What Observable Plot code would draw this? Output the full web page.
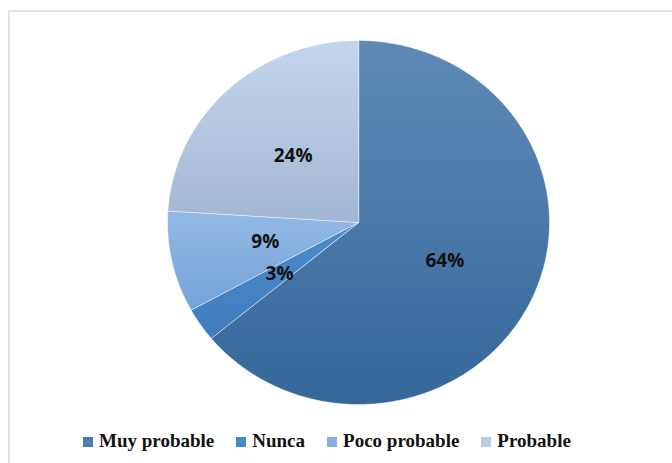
<!DOCTYPE html>
<html>
<head>
<meta charset="utf-8">
<script src="https://cdn.jsdelivr.net/npm/d3@7"></script>
<script src="https://cdn.jsdelivr.net/npm/@observablehq/plot@0.6"></script>
<style>
  html, body { margin: 0; padding: 0; background: #fff; width: 672px; height: 463px; overflow: hidden; }
  #wrap { position: relative; width: 672px; height: 463px; }
  #frame { position: absolute; left: 8px; top: 10px; width: 700px; height: 500px; border: 2px solid #dce3eb; box-sizing: border-box; }
  #chart { position: absolute; left: 0; top: 0; }
  #legend { position: absolute; left: 83px; top: 430px; display: flex; align-items: center;
    font-family: "Liberation Serif", "Times New Roman", serif; font-weight: bold; font-size: 19px; color: #111; white-space: nowrap; }
  .item { display: flex; align-items: center; margin-right: 22px; }
  .sw { width: 10px; height: 10px; margin-right: 6px; margin-top: 2px; }
</style>
</head>
<body>
<div id="wrap">
  <div id="frame"></div>
  <div id="chart"></div>
  <div id="legend"></div>
</div>
<script>
const categories = ["Muy probable", "Nunca", "Poco probable", "Probable"];
const values = [64, 3, 9, 24];
const labels = ["64%", "3%", "9%", "24%"];
const gradTop = ["#5f8ab6", "#4d8cca", "#94b9e4", "#c4d6ee"];
const gradBottom = ["#35679a", "#3f7dbf", "#74a3d8", "#a2b7d5"];
const swatch = ["#4a7cad", "#4788c8", "#87afe0", "#b8cce8"];

const total = d3.sum(values);
// slices start at the top and run clockwise
let cum = 0;
const slices = categories.map((c, i) => {
  const a0 = cum / total * 2 * Math.PI;
  cum += values[i];
  const a1 = cum / total * 2 * Math.PI;
  return {c, i, a0, a1, v: values[i]};
});

const pts = [];
slices.forEach(s => {
  pts.push({c: s.c, i: s.i, x: 0, y: 0});
  const n = Math.max(2, Math.ceil((s.a1 - s.a0) / (Math.PI / 360)));
  for (let k = 0; k <= n; k++) {
    const a = s.a0 + (s.a1 - s.a0) * k / n;
    pts.push({c: s.c, i: s.i, x: Math.sin(a), y: Math.cos(a)});
  }
});

const labelPts = slices.map(s => {
  const m = (s.a0 + s.a1) / 2;
  return {x: 0.5 * Math.sin(m), y: 0.5 * Math.cos(m), t: labels[s.i]};
});

const defs = () => {
  const d = d3.create("svg:defs");
  categories.forEach((c, i) => {
    const g = d.append("linearGradient").attr("id", "g" + i)
      .attr("x1", 0).attr("y1", 0).attr("x2", 0).attr("y2", 1);
    g.append("stop").attr("offset", "0%").attr("stop-color", gradTop[i]);
    g.append("stop").attr("offset", "100%").attr("stop-color", gradBottom[i]);
  });
  return d.node();
};

const chart = Plot.plot({
  width: 672,
  height: 425,
  marginLeft: 167,
  marginRight: 123,
  marginTop: 40,
  marginBottom: 21,
  x: {domain: [-1, 1], axis: null},
  y: {domain: [-1, 1], axis: null},
  marks: [
    defs,
    Plot.line(pts, {x: "x", y: "y", z: "c", fill: d => `url(#g${d.i})`, stroke: "#ffffff", strokeOpacity: 0.6, strokeWidth: 0.8, curve: "linear-closed"}),
    Plot.text(labelPts, {x: "x", y: "y", text: "t", fontSize: 19, fontWeight: "bold", fontFamily: "'Open Sans', Lato, sans-serif", fill: "#111"})
  ]
});
document.getElementById("chart").appendChild(chart);

const leg = d3.select("#legend");
categories.forEach((c, i) => {
  const it = leg.append("div").attr("class", "item");
  it.append("div").attr("class", "sw").style("background", swatch[i]);
  it.append("span").text(c);
});
</script>
</body>
</html>
